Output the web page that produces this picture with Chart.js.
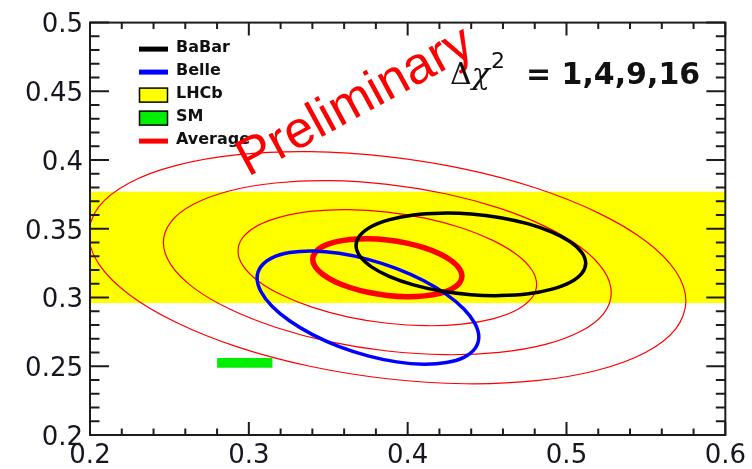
<!DOCTYPE html>
<html>
<head>
<meta charset="utf-8">
<script src="https://cdn.jsdelivr.net/npm/chart.js@4.4.1/dist/chart.umd.min.js"></script>
<style>
  html, body { margin: 0; padding: 0; background: #fff; }
  #wrap { width: 752px; height: 469px; }
</style>
</head>
<body>
<div id="wrap"><canvas id="contourChart" width="752" height="469"></canvas></div>
<script>
// axis ticks
const xTickValues = [0.2, 0.3, 0.4, 0.5, 0.6];
const yTickValues = [0.2, 0.25, 0.3, 0.35, 0.4, 0.45, 0.5];
const xMinorStep = 0.02;
const yMinorStep = 0.01;

// LHCb band (y range) and SM box
const lhcbBand = [0.296, 0.377];
const smX = [0.28, 0.315];
const smY = [0.249, 0.256];

// contours, [x, y] pairs
const babarContour = [
    [0.5121, 0.3250], [0.5096, 0.3328], [0.5024, 0.3405], [0.4909, 0.3476], [0.4760, 0.3536], [0.4585, 0.3581],
    [0.4398, 0.3608], [0.4211, 0.3614], [0.4036, 0.3601], [0.3887, 0.3567], [0.3772, 0.3517], [0.3700, 0.3452],
    [0.3675, 0.3378], [0.3700, 0.3300], [0.3772, 0.3223], [0.3887, 0.3152], [0.4036, 0.3092], [0.4211, 0.3047],
    [0.4398, 0.3020], [0.4585, 0.3014], [0.4760, 0.3027], [0.4909, 0.3061], [0.5024, 0.3111], [0.5096, 0.3176]
];
const belleContour = [
    [0.4448, 0.2712], [0.4424, 0.2810], [0.4354, 0.2917], [0.4244, 0.3023], [0.4099, 0.3124], [0.3931, 0.3211],
    [0.3750, 0.3278], [0.3569, 0.3322], [0.3401, 0.3339], [0.3256, 0.3327], [0.3146, 0.3289], [0.3076, 0.3225],
    [0.3052, 0.3142], [0.3076, 0.3044], [0.3146, 0.2937], [0.3256, 0.2831], [0.3401, 0.2730], [0.3569, 0.2643],
    [0.3750, 0.2576], [0.3931, 0.2532], [0.4099, 0.2515], [0.4244, 0.2527], [0.4354, 0.2565], [0.4424, 0.2629]
];
const average1 = [
    [0.4342, 0.3156], [0.4326, 0.3210], [0.4279, 0.3265], [0.4204, 0.3317], [0.4107, 0.3361], [0.3994, 0.3396],
    [0.3872, 0.3419], [0.3750, 0.3428], [0.3637, 0.3422], [0.3540, 0.3403], [0.3465, 0.3371], [0.3418, 0.3328],
    [0.3402, 0.3278], [0.3418, 0.3224], [0.3465, 0.3169], [0.3540, 0.3117], [0.3637, 0.3073], [0.3750, 0.3038],
    [0.3872, 0.3015], [0.3994, 0.3006], [0.4107, 0.3012], [0.4204, 0.3031], [0.4279, 0.3063], [0.4326, 0.3106]
];
const average2 = [
    [0.4812, 0.3095], [0.4780, 0.3204], [0.4686, 0.3313], [0.4536, 0.3416], [0.4342, 0.3506], [0.4116, 0.3576],
    [0.3872, 0.3621], [0.3628, 0.3639], [0.3402, 0.3628], [0.3208, 0.3589], [0.3058, 0.3525], [0.2964, 0.3439],
    [0.2932, 0.3339], [0.2964, 0.3230], [0.3058, 0.3121], [0.3208, 0.3018], [0.3402, 0.2928], [0.3628, 0.2858],
    [0.3872, 0.2813], [0.4116, 0.2795], [0.4342, 0.2806], [0.4536, 0.2845], [0.4686, 0.2909], [0.4780, 0.2995]
];
const average3 = [
    [0.5282, 0.3034], [0.5234, 0.3197], [0.5093, 0.3362], [0.4868, 0.3516], [0.4577, 0.3650], [0.4238, 0.3755],
    [0.3872, 0.3823], [0.3506, 0.3850], [0.3167, 0.3833], [0.2876, 0.3775], [0.2651, 0.3678], [0.2510, 0.3551],
    [0.2462, 0.3400], [0.2510, 0.3237], [0.2651, 0.3072], [0.2876, 0.2918], [0.3167, 0.2784], [0.3506, 0.2679],
    [0.3872, 0.2611], [0.4238, 0.2584], [0.4577, 0.2601], [0.4868, 0.2659], [0.5093, 0.2756], [0.5234, 0.2883]
];
const average4 = [
    [0.5752, 0.2973], [0.5688, 0.3191], [0.5500, 0.3410], [0.5200, 0.3616], [0.4812, 0.3795], [0.4360, 0.3934],
    [0.3872, 0.4025], [0.3384, 0.4061], [0.2932, 0.4039], [0.2544, 0.3961], [0.2244, 0.3832], [0.2056, 0.3662],
    [0.1992, 0.3461], [0.2056, 0.3243], [0.2244, 0.3024], [0.2544, 0.2818], [0.2932, 0.2639], [0.3384, 0.2500],
    [0.3872, 0.2409], [0.4360, 0.2373], [0.4812, 0.2395], [0.5200, 0.2473], [0.5500, 0.2602], [0.5688, 0.2772]
];

const RED = '#ff0000';
const axisColor = '#161622';

function contour(label, pts, color, width, order, legendRow) {
    return {
        label: label,
        data: pts.map(p => ({ x: p[0], y: p[1] })),
        showLine: true,
        closed: true,
        borderColor: color,
        borderWidth: width,
        pointRadius: 0,
        tension: 0.33,
        fill: false,
        order: order,
        legendKind: legendRow === undefined ? null : 'line',
        legendRow: legendRow
    };
}

function band(label, xs, ys, color, order, legendRow) {
    return {
        label: label,
        data: [{ x: xs[0], y: ys[1] }, { x: xs[1], y: ys[1] }],
        showLine: true,
        borderColor: 'rgba(0,0,0,0)',
        borderWidth: 0,
        pointRadius: 0,
        backgroundColor: color,
        fill: { value: ys[0] },
        order: order,
        legendKind: 'box',
        legendRow: legendRow
    };
}

// close the contour lines the way the radar controller does
const closeLoops = {
    id: 'closeLoops',
    afterDatasetUpdate(chart, args) {
        const ds = chart.data.datasets[args.index];
        if (!ds.closed) return;
        const line = args.meta.dataset;
        line._loop = true;
        line._fullLoop = true;
        line._pointsUpdated = false;
        line._segments = undefined;
        line._path = undefined;
    }
};

// frame, inward ticks, legend and labels
const decorations = {
    id: 'decorations',
    afterDraw(chart) {
        const ctx = chart.ctx;
        const area = chart.chartArea;
        const xs = chart.scales.x;
        const ys = chart.scales.y;
        ctx.save();

        ctx.strokeStyle = '#1c1c1c';
        ctx.lineWidth = 2;
        ctx.strokeRect(area.left, area.top, area.right - area.left, area.bottom - area.top);

        ctx.beginPath();
        const nx = Math.round((xs.max - xs.min) / xMinorStep);
        for (let i = 0; i <= nx; i++) {
            const px = xs.getPixelForValue(xs.min + i * xMinorStep);
            const len = i % 5 === 0 ? 13 : 6.5;
            ctx.moveTo(px, area.bottom); ctx.lineTo(px, area.bottom - len);
            ctx.moveTo(px, area.top); ctx.lineTo(px, area.top + len);
        }
        const ny = Math.round((ys.max - ys.min) / yMinorStep);
        for (let i = 0; i <= ny; i++) {
            const py = ys.getPixelForValue(ys.min + i * yMinorStep);
            const len = i % 5 === 0 ? 19 : 9.5;
            ctx.moveTo(area.left, py); ctx.lineTo(area.left + len, py);
            ctx.moveTo(area.right, py); ctx.lineTo(area.right - len, py);
        }
        ctx.stroke();

        // legend
        const lx = area.left + 49;
        const rowY = r => area.top + 26.5 + r * 23;
        ctx.font = 'bold 16px "DejaVu Sans"';
        ctx.textBaseline = 'middle';
        ctx.textAlign = 'left';
        chart.data.datasets.forEach(ds => {
            if (!ds.legendKind) return;
            const y = rowY(ds.legendRow);
            if (ds.legendKind === 'line') {
                ctx.strokeStyle = ds.borderColor;
                ctx.lineWidth = 5;
                ctx.beginPath();
                ctx.moveTo(lx, y); ctx.lineTo(lx + 29, y);
                ctx.stroke();
            } else {
                ctx.fillStyle = ds.backgroundColor;
                ctx.fillRect(lx + 0.5, y - 7, 28, 14);
                ctx.strokeStyle = '#000';
                ctx.lineWidth = 1.5;
                ctx.strokeRect(lx + 0.5, y - 7, 28, 14);
            }
            ctx.fillStyle = '#111';
            ctx.fillText(ds.label, lx + 37, y - 1);
        });

        // watermark
        ctx.save();
        ctx.translate(248, 177);
        ctx.rotate(-28.5 * Math.PI / 180);
        ctx.font = '52px "Liberation Sans"';
        ctx.fillStyle = RED;
        ctx.textBaseline = 'alphabetic';
        ctx.fillText('Preliminary', 0, 0);
        ctx.restore();

        // contour levels
        ctx.fillStyle = '#111';
        ctx.textBaseline = 'alphabetic';
        ctx.font = '30px "DejaVu Serif"';
        ctx.fillText('\u0394', 450, 84);
        const dw = ctx.measureText('\u0394').width;
        ctx.font = 'italic 30px "DejaVu Serif"';
        ctx.fillText('\u03c7', 450 + dw, 84);
        ctx.font = '22px "DejaVu Sans"';
        ctx.fillText('2', 491, 68);
        ctx.font = 'bold 30px "DejaVu Sans"';
        ctx.fillText('= 1,4,9,16', 526, 84);

        ctx.restore();
    }
};

const ctx = document.getElementById('contourChart').getContext('2d');
new Chart(ctx, {
    type: 'scatter',
    data: {
        datasets: [
            contour('BaBar', babarContour, '#000000', 3.5, 1, 0),
            contour('Belle', belleContour, '#0000ff', 3.5, 2, 1),
            band('LHCb', [0.2, 0.6], lhcbBand, '#ffff00', 9, 2),
            band('SM', smX, smY, '#00ee00', 8, 3),
            contour('Average', average1, RED, 5.5, 3, 4),
            contour('Average 2', average2, RED, 1.2, 4),
            contour('Average 3', average3, RED, 1.2, 4),
            contour('Average 4', average4, RED, 1.2, 4)
        ]
    },
    options: {
        responsive: false,
        animation: false,
        layout: { padding: { top: 16, right: 23, left: 0, bottom: 0 } },
        plugins: {
            legend: { display: false },
            tooltip: { enabled: false }
        },
        scales: {
            x: {
                type: 'linear',
                min: 0.2,
                max: 0.6,
                afterBuildTicks: s => { s.ticks = xTickValues.map(v => ({ value: v })); },
                afterFit: s => { s.height = 34; },
                grid: { display: false, drawTicks: false },
                border: { display: false },
                ticks: {
                    padding: 6,
                    color: axisColor,
                    autoSkip: false,
                    maxRotation: 0,
                    font: { family: 'DejaVu Sans', size: 26 },
                    callback: v => String(v)
                }
            },
            y: {
                type: 'linear',
                min: 0.2,
                max: 0.5,
                afterBuildTicks: s => { s.ticks = yTickValues.map(v => ({ value: v })); },
                afterFit: s => { s.width = 90; },
                grid: { display: false, drawTicks: false },
                border: { display: false },
                ticks: {
                    padding: 7,
                    labelOffset: 3,
                    color: axisColor,
                    autoSkip: false,
                    font: { family: 'DejaVu Sans', size: 26 },
                    callback: v => String(v)
                }
            }
        }
    },
    plugins: [closeLoops, decorations]
});
</script>
</body>
</html>
